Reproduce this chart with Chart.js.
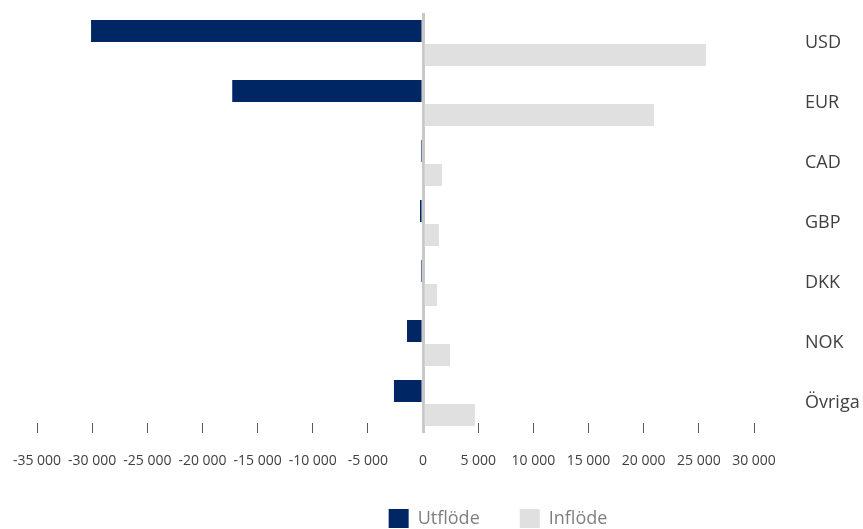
<!DOCTYPE html>
<html lang="sv">
<head>
    <meta charset="UTF-8">
    <meta name="viewport" content="width=device-width, initial-scale=1.0">
    <title>Valutaflöden</title>
    <style type="text/css">
        body {
            margin: 0;
            background: #fff;
        }
        .chartBox {
            width: 863px;
            height: 529px;
        }
    </style>
</head>
<body>
    <div class="chartBox">
        <canvas id="myChart"></canvas>
    </div>

    <script src="https://cdn.jsdelivr.net/npm/chart.js"></script>

    <script>
        const currencies = ['USD', 'EUR', 'CAD', 'GBP', 'DKK', 'NOK', 'Övriga'];
        const outflow = [-30100, -17300, -190, -280, -190, -1460, -2640];
        const inflow = [25640, 20930, 1710, 1440, 1260, 2440, 4700];
        const xTicks = [-35000, -30000, -25000, -20000, -15000, -10000, -5000, 0, 5000, 10000, 15000, 20000, 25000, 30000];

        // "-35 000" style, space as thousands separator
        const fmt = (v) => (v < 0 ? '-' : '') + String(Math.abs(v)).replace(/\B(?=(\d{3})+(?!\d))/g, ' ');

        // legend sits a bit right of the canvas centre
        const legendShift = {
          id: 'legendShift',
          afterLayout(chart) {
            chart.legend.left += 48;
            chart.legend.right += 48;
          }
        };

        const ctx = document.getElementById('myChart');
        new Chart(ctx, {
          type: 'bar',
          data: {
            labels: currencies,
            datasets: [{
              label: 'Utflöde',
              data: outflow,
              backgroundColor: '#002663',
              borderWidth: 0
            }, {
              label: 'Inflöde',
              data: inflow,
              backgroundColor: '#dfe0df',
              borderWidth: 0
            }]
          },
          options: {
            indexAxis: 'y',
            responsive: true,
            maintainAspectRatio: false,
            animation: false,
            categoryPercentage: 0.8,
            barPercentage: 22 / 24,
            layout: {
              padding: { left: 37, top: 13, right: 0, bottom: 0 }
            },
            plugins: {
              tooltip: { enabled: false },
              legend: {
                position: 'bottom',
                maxHeight: 60,
                labels: {
                  boxWidth: 20,
                  boxHeight: 19,
                  padding: 40,
                  color: '#7f7f7f',
                  font: { family: 'Open Sans', size: 18 }
                }
              }
            },
            scales: {
              x: {
                type: 'linear',
                min: -35000,
                max: 30000,
                z: 1,
                afterBuildTicks(scale) {
                  scale.ticks = xTicks.map(v => ({ value: v }));
                },
                afterFit(scale) {
                  scale.height = 36;
                  scale.paddingLeft = 0;
                  scale.paddingRight = 0;
                },
                border: { display: false },
                grid: {
                  drawOnChartArea: true,
                  drawTicks: true,
                  tickLength: -10,
                  color: (c) => c.tick && c.tick.value === 0 ? '#c8c8c8' : 'rgba(0,0,0,0)',
                  lineWidth: (c) => c.tick && c.tick.value === 0 ? 3 : 1,
                  tickColor: (c) => c.tick && c.tick.value === 0 ? '#c8c8c8' : '#595959',
                  tickWidth: (c) => c.tick && c.tick.value === 0 ? 3 : 1
                },
                ticks: {
                  autoSkip: false,
                  maxRotation: 0,
                  padding: 30,
                  color: '#404040',
                  font: { family: 'Open Sans', size: 14 },
                  callback: (v) => fmt(v)
                }
              },
              y: {
                position: 'right',
                afterFit(scale) {
                  scale.width = 109;
                  scale.paddingTop = 0;
                  scale.paddingBottom = 0;
                },
                border: { display: false },
                grid: { display: false, drawTicks: false },
                ticks: {
                  padding: 51,
                  color: '#404040',
                  font: { family: 'Open Sans', size: 18 }
                }
              }
            }
          },
          plugins: [legendShift]
        });
    </script>
</body>
</html>
